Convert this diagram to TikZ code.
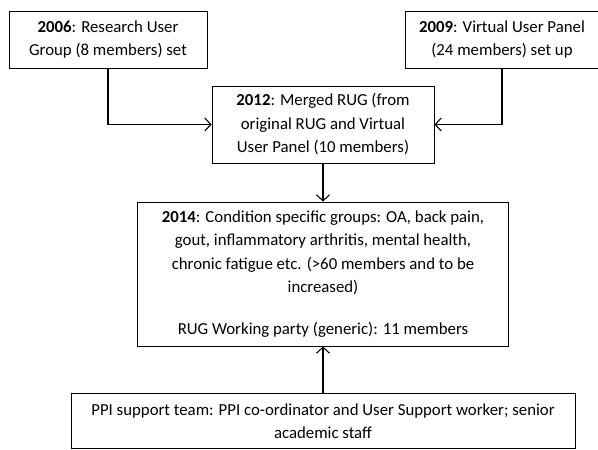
\documentclass[tikz,border=0pt]{standalone}
\usepackage{fontspec}
\setmainfont{Carlito}
\usetikzlibrary{arrows.meta}

\tikzset{
  box/.style={draw, line width=0.9pt, align=center, inner sep=0pt,
    font=\fontsize{16.8}{23.5}\selectfont},
  arr/.style={line width=1.1pt, -{Straight Barb[length=6pt,width=13pt,line width=1.1pt]}}
}

\begin{document}
\begin{tikzpicture}[x=1pt, y=-1pt]
        \useasboundingbox (0,0) rectangle (598,450);

        % Boxes
        \node[box, minimum width=198pt, minimum height=57pt] (y2006) at (108,39.5)
            {\textbf{2006}: Research User\\Group (8 members) set};
        \node[box, minimum width=194pt, minimum height=57pt] (y2009) at (502,39.5)
            {\textbf{2009}: Virtual User Panel\\(24 members) set up};
        \node[box, minimum width=222pt, minimum height=77pt] (y2012) at (323,124.5)
            {\textbf{2012}: Merged RUG (from\\original RUG and Virtual\\User Panel (10 members)};
        \node[box, minimum width=371pt, minimum height=144pt] (y2014) at (323,274)
            {\textbf{2014}: Condition specific groups: OA, back pain,\\
             gout, inflammatory arthritis, mental health,\\
             chronic fatigue etc. (>60 members and to be\\
             increased)\\[18pt]
             RUG Working party (generic): 11 members};
        \node[box, minimum width=504pt, minimum height=55pt] (ppi) at (323,421)
            {PPI support team: PPI co-ordinator and User Support worker; senior\\academic staff};

        % Arrows
        \draw[arr] (y2006.south) |- (y2012.west);
        \draw[arr] (y2009.south) |- (y2012.east);
        \draw[arr] (y2012.south) -- (y2014.north);
        \draw[arr] (ppi.north) -- (y2014.south);
    \end{tikzpicture}
\end{document}
